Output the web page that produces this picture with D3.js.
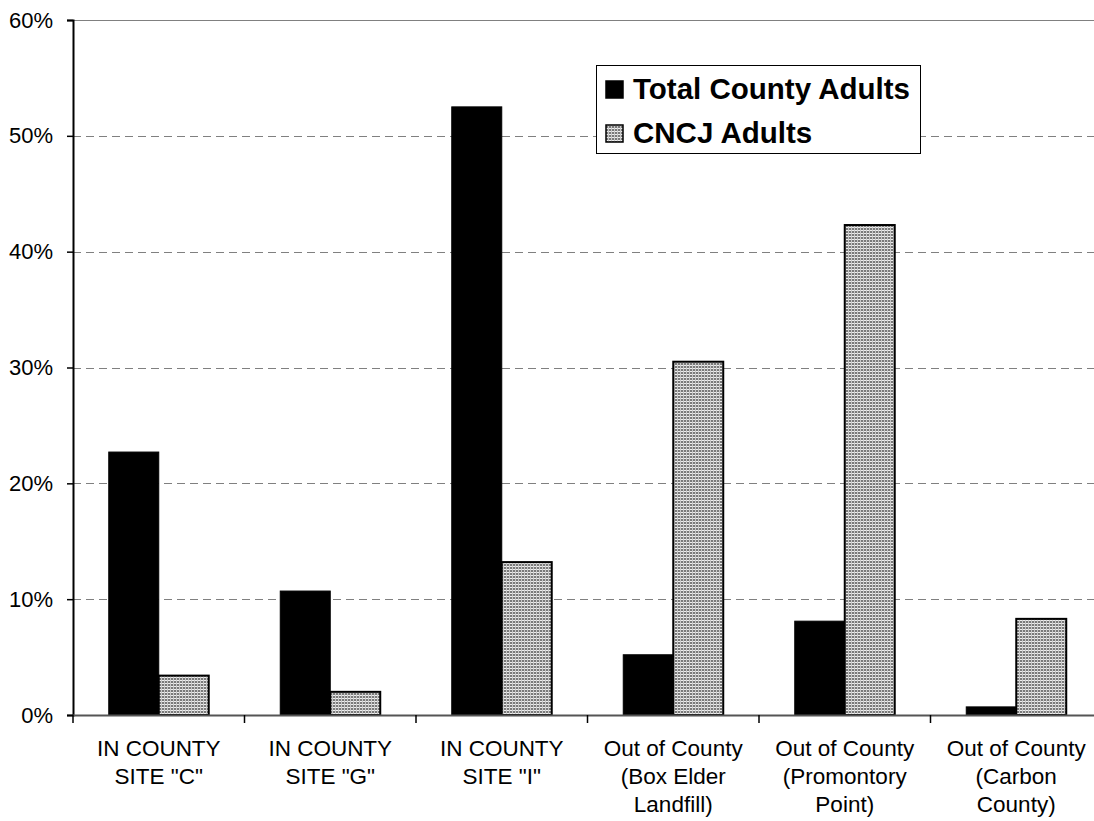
<!DOCTYPE html>
<html><head><meta charset="utf-8">
<script src="https://cdn.jsdelivr.net/npm/d3@7"></script>
<style>body{margin:0;background:#fff;}svg{display:block;font-family:Arial,"Liberation Sans",sans-serif;}</style>
</head><body><div id="chart"></div>
<script>
const categories = [
  ["IN COUNTY", "SITE \"C\""],
  ["IN COUNTY", "SITE \"G\""],
  ["IN COUNTY", "SITE \"I\""],
  ["Out of County", "(Box Elder", "Landfill)"],
  ["Out of County", "(Promontory", "Point)"],
  ["Out of County", "(Carbon", "County)"]
];
const seriesNames = ["Total County Adults", "CNCJ Adults"];
const totalCounty = [22.7, 10.7, 52.5, 5.2, 8.1, 0.7];
const cncj = [3.4, 2.0, 13.2, 30.5, 42.3, 8.3];
const yTicks = [0, 10, 20, 30, 40, 50, 60];

const W = 1094, H = 821;
const m = {left: 73, top: 20};
const plotW = 1029, plotH = 695;
const svg = d3.select("#chart").append("svg").attr("width", W).attr("height", H);

const defs = svg.append("defs");
const pat = defs.append("pattern").attr("id", "dots").attr("patternUnits", "userSpaceOnUse")
  .attr("width", 3).attr("height", 3);
pat.append("rect").attr("width", 3).attr("height", 3).attr("fill", "#7a7a7a");
pat.append("rect").attr("x", 0).attr("y", 2).attr("width", 3).attr("height", 1).attr("fill", "#eeeeee");
pat.append("rect").attr("x", 2).attr("y", 0).attr("width", 1).attr("height", 3).attr("fill", "#c8c8c8");

const x = d3.scaleBand().domain(d3.range(categories.length)).range([m.left, m.left + plotW]).paddingInner(0).paddingOuter(0);
const y = d3.scaleLinear().domain([0, 60]).range([m.top + plotH, m.top]);
const inner = 0.583;
const barW = x.bandwidth() * inner / 2;
const off = (x.bandwidth() - barW * 2) / 2;

// gridlines
svg.append("g").selectAll("line").data(yTicks.filter(d => d > 0)).join("line")
  .attr("x1", m.left).attr("x2", W)
  .attr("y1", d => Math.round(y(d)) + 0.5).attr("y2", d => Math.round(y(d)) + 0.5)
  .attr("stroke", "#808080").attr("stroke-width", 1.2)
  .attr("stroke-dasharray", d => d === 60 ? null : "8,5");

// bars
const series = [totalCounty, cncj];
series.forEach((vals, si) => {
  svg.append("g").selectAll("rect").data(vals).join("rect")
    .attr("x", (d, i) => x(i) + off + si * barW)
    .attr("y", d => y(d))
    .attr("width", barW)
    .attr("height", d => y(0) - y(d))
    .attr("fill", si === 0 ? "#000" : "url(#dots)")
    .attr("stroke", "#000").attr("stroke-width", si === 0 ? 1 : 2);
});

// y axis
const yAxis = d3.axisLeft(y).tickValues(yTicks).tickSize(6).tickPadding(14).tickFormat(d => d + "%");
const ya = svg.append("g").attr("transform", `translate(${m.left},0)`).call(yAxis);
ya.select(".domain").attr("stroke", "#000").attr("stroke-width", 2);
ya.selectAll(".tick line").attr("stroke", "#000").attr("stroke-width", 1.5);
ya.selectAll("text").attr("font-size", 22).attr("fill", "#000").attr("font-family", "Arial, 'Liberation Sans', sans-serif");

// x axis
const xTickPos = d3.range(categories.length + 1).map(i => m.left + i * x.bandwidth());
svg.append("line").attr("x1", m.left).attr("x2", W).attr("y1", y(0) + 0.5).attr("y2", y(0) + 0.5)
  .attr("stroke", "#555").attr("stroke-width", 2);
svg.append("g").selectAll("line").data(xTickPos).join("line")
  .attr("x1", d => d).attr("x2", d => d).attr("y1", y(0)).attr("y2", y(0) + 8)
  .attr("stroke", "#000").attr("stroke-width", 1.5);
const xl = svg.append("g").selectAll("text").data(categories).join("text")
  .attr("x", (d, i) => x(i) + x.bandwidth() / 2)
  .attr("y", 756).attr("text-anchor", "middle").attr("font-size", 22.5).attr("fill", "#000");
xl.selectAll("tspan").data(d => d).join("tspan")
  .attr("x", function() { return this.parentNode.getAttribute("x"); })
  .attr("dy", (d, i) => i === 0 ? 0 : 28).text(d => d);

// legend
const lg = svg.append("g");
lg.append("rect").attr("x", 596.5).attr("y", 65.5).attr("width", 324).attr("height", 88)
  .attr("fill", "#fff").attr("stroke", "#000").attr("stroke-width", 1);
const fills = ["#000", "url(#dots)"];
seriesNames.forEach((n, i) => {
  lg.append("rect").attr("x", 606).attr("y", 81 + i * 44).attr("width", 17).attr("height", 17)
    .attr("fill", fills[i]).attr("stroke", "#000").attr("stroke-width", 1.5);
  lg.append("text").attr("x", 633).attr("y", 99 + i * 44).attr("font-size", 29.5).attr("font-weight", "bold")
    .attr("fill", "#000").text(n);
});
</script></body></html>
